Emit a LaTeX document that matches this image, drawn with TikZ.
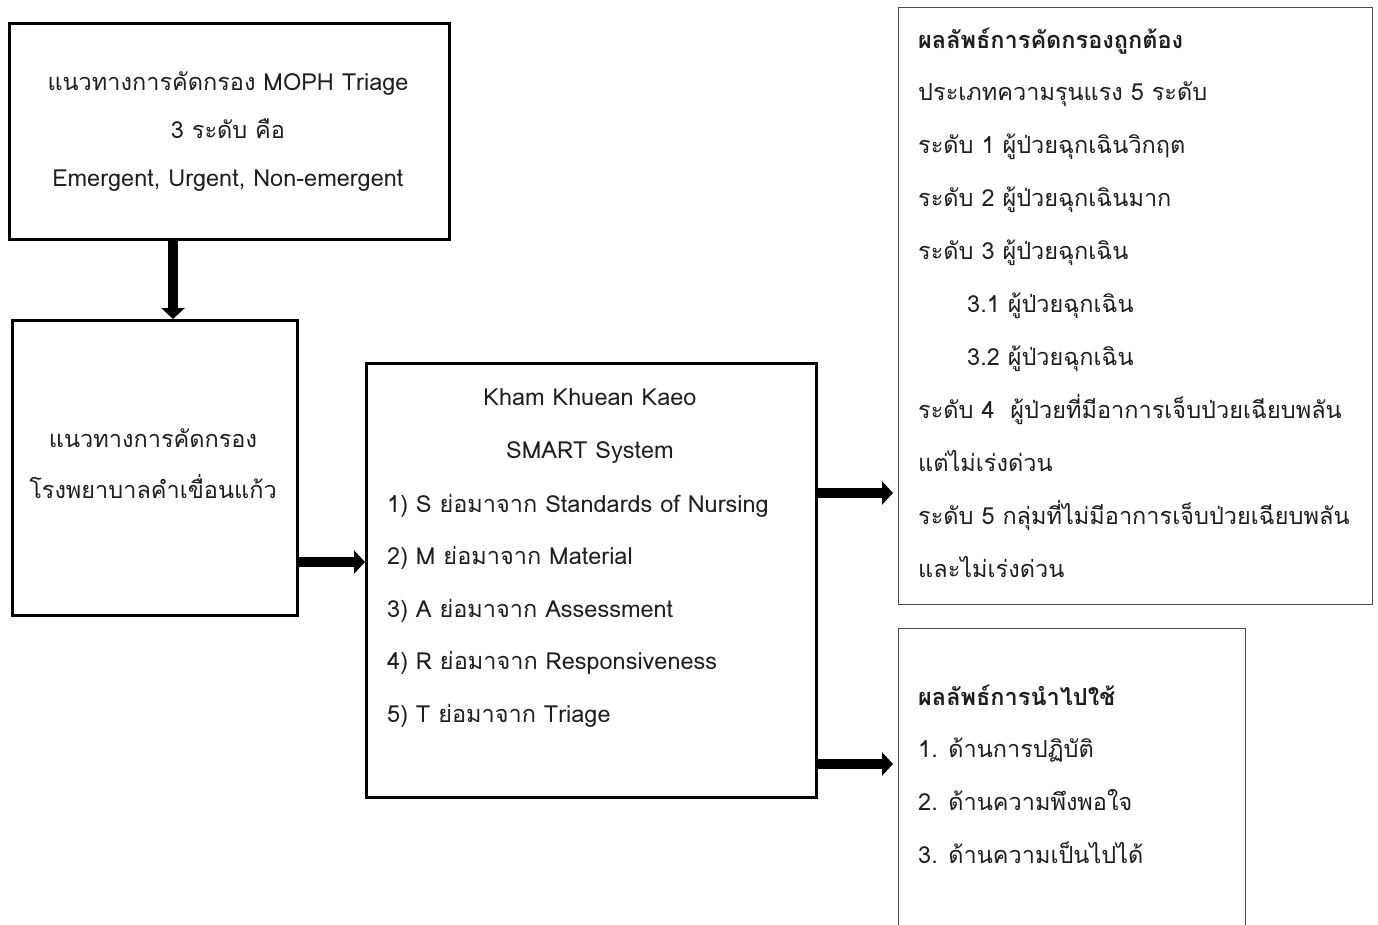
\documentclass[tikz,border=0pt]{standalone}
\usepackage{fontspec}
\setmainfont[Script=Thai]{Loma}
\usetikzlibrary{arrows.meta}
\begin{document}
\begin{tikzpicture}[x=1pt,y=-1pt,
  box/.style={draw, inner sep=0pt, anchor=north west},
  txt/.style={inner sep=0pt, font=\fontsize{23.5}{28}\selectfont, text=black!88},
  arr/.style={line width=9.5pt, -{Triangle[length=11pt,width=23pt]}}]
\useasboundingbox (0,0) rectangle (1378,924);
\fill[white] (0,0) rectangle (1378,924);
% boxes
\node[box, line width=3pt, minimum width=440pt, minimum height=216pt] (b1) at (8,22) {};
\node[box, line width=2.5pt, minimum width=285pt, minimum height=295pt] (b2) at (11,319) {};
\node[box, line width=2.5pt, minimum width=450pt, minimum height=434pt] (b3) at (365,362) {};
\node[box, line width=1.2pt, draw=black!70, minimum width=474pt, minimum height=597pt] (b4) at (898,7) {};
\node[box, line width=1.2pt, draw=black!70, minimum width=347pt, minimum height=320pt] (b5) at (898,628) {};
% helper coordinates
\coordinate (vx) at (173,0);
\coordinate (h1) at (0,562);
\coordinate (h2) at (0,493);
\coordinate (h3) at (0,764);
% arrows
\draw[arr] (b1.south -| vx) -- (b2.north -| vx);
\draw[arr] (b2.east |- h1) -- (b3.west |- h1);
\draw[arr, shorten >=5pt] (b3.east |- h2) -- (b4.west |- h2);
\draw[arr, shorten >=5pt] (b3.east |- h3) -- (b5.west |- h3);
% box 1 text
\node[txt, anchor=base] (t1a) at (228,90) {แนวทางการคัดกรอง MOPH Triage};
\node[txt, anchor=base] (t1b) at (228,138) {3 ระดับ คือ};
\node[txt, anchor=base] (t1c) at (228,186) {Emergent, Urgent, Non-emergent};
% box 2 text
\node[txt, anchor=base] (t2a) at (153,447) {แนวทางการคัดกรอง};
\node[txt, anchor=base] (t2b) at (153,498) {โรงพยาบาลคำเขื่อนแก้ว};
% box 3 text
\node[txt, anchor=base] (t3a) at (590,405) {Kham Khuean Kaeo};
\node[txt, anchor=base] (t3b) at (590,458) {SMART System};
\foreach \t [count=\i] in {1) S ย่อมาจาก Standards of Nursing, 2) M ย่อมาจาก Material, 3) A ย่อมาจาก Assessment, 4) R ย่อมาจาก Responsiveness, 5) T ย่อมาจาก Triage}
  \node[txt, anchor=base west] (t3-\i) at (387,{512+52.6*(\i-1)}) {\t};
% box 4 text
\node[txt, anchor=base west, font=\fontsize{23.5}{28}\selectfont\bfseries] (t4-1) at (918,48) {ผลลัพธ์การคัดกรองถูกต้อง};
\foreach \t/\x [count=\i from 2] in {ประเภทความรุนแรง 5 ระดับ/918, ระดับ 1 ผู้ป่วยฉุกเฉินวิกฤต/918, ระดับ 2 ผู้ป่วยฉุกเฉินมาก/918, ระดับ 3 ผู้ป่วยฉุกเฉิน/918, 3.1 ผู้ป่วยฉุกเฉิน/967, 3.2 ผู้ป่วยฉุกเฉิน/967, ระดับ 4~~ผู้ป่วยที่มีอาการเจ็บป่วยเฉียบพลัน/918, แต่ไม่เร่งด่วน/918, ระดับ 5 กลุ่มที่ไม่มีอาการเจ็บป่วยเฉียบพลัน/918, และไม่เร่งด่วน/918}
  \node[txt, anchor=base west] (t4-\i) at (\x,{48+52.9*(\i-1)}) {\t};
% box 5 text
\node[txt, anchor=base west, font=\fontsize{23.5}{28}\selectfont\bfseries] (t5-1) at (918,705) {ผลลัพธ์การนำไปใช้};
\foreach \t [count=\i from 2] in {1. ด้านการปฏิบัติ, 2. ด้านความพึงพอใจ, 3. ด้านความเป็นไปได้}
  \node[txt, anchor=base west] (t5-\i) at (918,{705+52.7*(\i-1)}) {\t};
\end{tikzpicture}
\end{document}
